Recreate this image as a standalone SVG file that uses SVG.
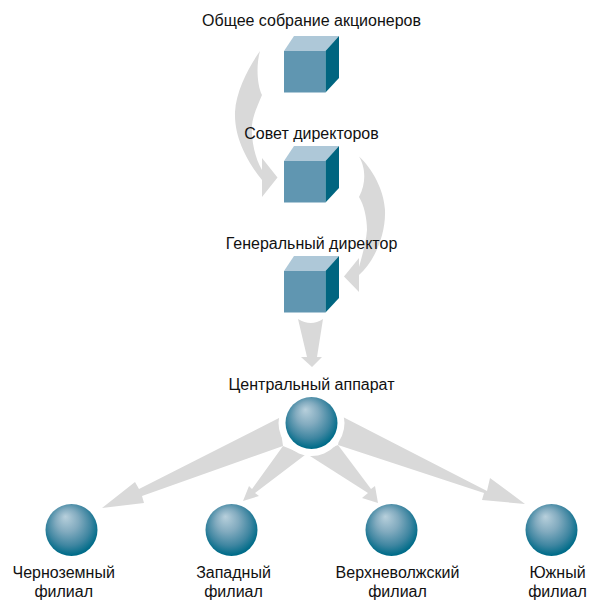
<svg xmlns="http://www.w3.org/2000/svg" width="592" height="603" viewBox="0 0 592 603">
<style>
.t{font-family:"Liberation Sans",Arial,sans-serif;font-size:16px;fill:#111;text-anchor:middle}
.top{fill:#aec8d8}.front{fill:#6096b1}.side{fill:#006580}
.arrow{fill:#d9d9d9}
</style>
<defs>
<radialGradient id="ball" cx="0.48" cy="0.44" r="0.58" fx="0.38" fy="0.24">
<stop offset="0" stop-color="#b8d0dc"/><stop offset="0.38" stop-color="#82abbf"/><stop offset="0.72" stop-color="#3f86a1"/><stop offset="0.95" stop-color="#006c89"/>
</radialGradient>
<g id="cube"><polygon class="top" points="0,15 10,0 55,0 41.5,15"/><rect class="front" x="0" y="15" width="41.5" height="41.5"/><polygon class="side" points="41.5,15 55,0 55,42 41.5,56.5"/></g>
</defs>
<g id="connectors">
<path class="arrow" d="M260,51 C250,65 236,90 235,112 C234,140 250,165 262,180 L262,197 L277.500,177.500 L262,158 L262,170 C255,158 251,140 252,125 C253,115 258,105 262,95 C257,85 256,65 260,51 Z"/>
<path class="arrow" d="M359,156.500 C365,166 367,182 359,197 C364,205 367,218 367,230 C366,243 362,256 359,267 L359,258 L344,276.500 L359,292 L359,275 C374,262 386,235 385,210 C384,190 372,168 359,156.500 Z"/>
<path class="arrow" d="M298,319 Q311,327 323,319 L317,357 L322,357 L312,367 L301,357 L307,357 Z"/>
<path class="arrow" d="M279,418 L139,489 L135,482 L102,508 L144,503 L142,496 L283,446 Z"/>
<path class="arrow" d="M283,446 L252,489 L249,486 L243,501 L259,496 L255,493 L305,455 Z"/>
<path class="arrow" d="M310,456 L368,493 L362,498 L378,503 L375,486 L371,489 L338,445 Z"/>
<path class="arrow" d="M343,417 L487,491 L490,478 L525,504 L482,500 L484,493 L338,445 Z"/>
</g>
<g id="node-shareholders"><use href="#cube" x="284" y="36"/><text class="t" x="311.500" y="26">Общее собрание акционеров</text></g>
<g id="node-board"><use href="#cube" x="284" y="146"/><text class="t" x="311.500" y="139">Совет директоров</text></g>
<g id="node-ceo"><use href="#cube" x="284" y="256"/><text class="t" x="311.500" y="249">Генеральный директор</text></g>
<g id="node-central"><circle cx="311.500" cy="423" r="33" fill="#fff"/><circle cx="311.500" cy="423" r="26" fill="url(#ball)"/><text class="t" x="311.500" y="390">Центральный аппарат</text></g>
<g id="node-chernozem"><circle cx="71.500" cy="530" r="26" fill="url(#ball)"/><text class="t" x="63.700" y="578">Черноземный</text><text class="t" x="63.700" y="597">филиал</text></g>
<g id="node-west"><circle cx="231.500" cy="530" r="26" fill="url(#ball)"/><text class="t" x="233.500" y="578">Западный</text><text class="t" x="233.500" y="597">филиал</text></g>
<g id="node-volga"><circle cx="391.500" cy="530" r="26" fill="url(#ball)"/><text class="t" x="397.500" y="578">Верхневолжский</text><text class="t" x="397.500" y="597">филиал</text></g>
<g id="node-south"><circle cx="551.500" cy="530" r="26" fill="url(#ball)"/><text class="t" x="557.500" y="578">Южный</text><text class="t" x="557.500" y="597">филиал</text></g>
</svg>
